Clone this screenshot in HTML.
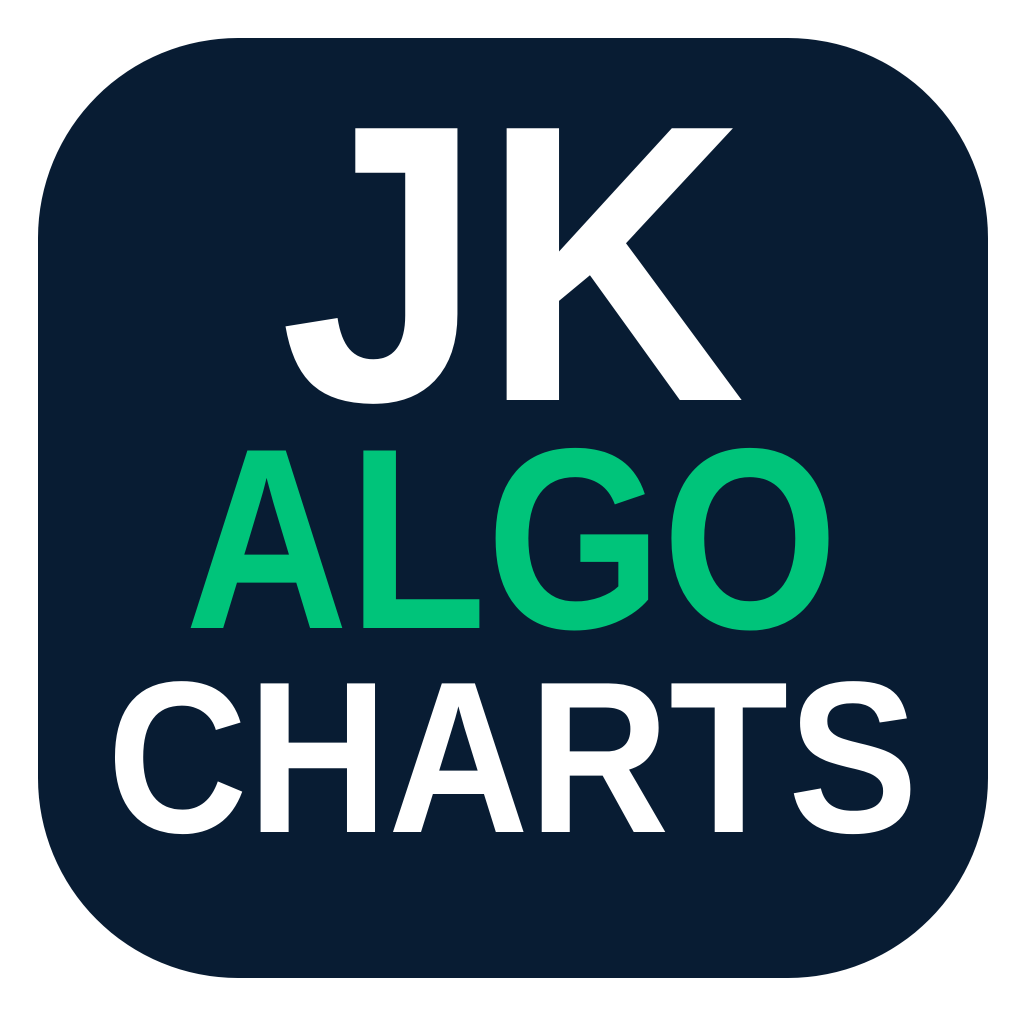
<!DOCTYPE html>
<html><head><meta charset="utf-8"><style>
html,body{margin:0;padding:0;background:#fff;width:1024px;height:1024px;overflow:hidden}
svg{display:block}
text{font-family:"Liberation Sans",sans-serif;font-weight:bold}
</style></head><body>
<svg width="1024" height="1024" viewBox="0 0 1024 1024">
<rect x="38" y="38" width="950" height="940" rx="200" ry="200" fill="#081c33"/>
<text x="280" y="400" font-size="395" fill="#ffffff" textLength="465" lengthAdjust="spacingAndGlyphs">JK</text>
<text x="185" y="628" font-size="258" fill="#00c47a" textLength="653" lengthAdjust="spacingAndGlyphs">ALGO</text>
<text x="107" y="832" font-size="216" fill="#ffffff" textLength="811" lengthAdjust="spacingAndGlyphs">CHARTS</text>
</svg>
</body></html>
